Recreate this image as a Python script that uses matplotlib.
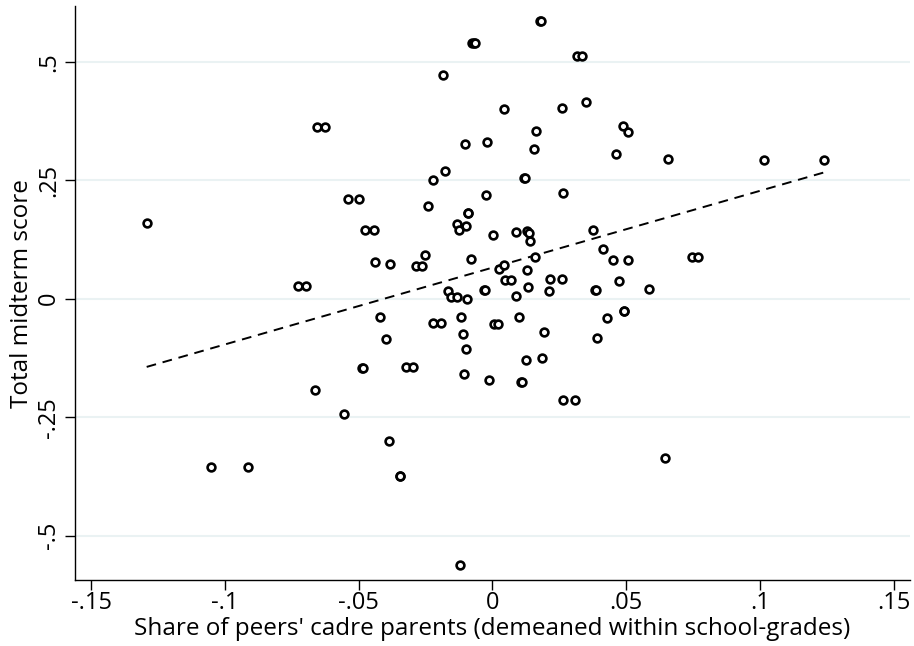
import numpy as np
import matplotlib
matplotlib.use("Agg")
import matplotlib.pyplot as plt

# values
x_share = [-0.1292, -0.0657, -0.0626, -0.0539, -0.0497, -0.0478, -0.0443, -0.0728, -0.0696,
           0.0177, 0.0181, -0.0075, -0.0070, -0.0065, 0.0316, 0.0335, -0.0184, 0.0042, 0.0261,
           0.0350, 0.0489, 0.0505, 0.0163, -0.0104, -0.0019, 0.0156, 0.0463, 0.0657, -0.0179,
           -0.0224, 0.0119, 0.0123, -0.0023, 0.0264, -0.0239, -0.0093, -0.0090, -0.0133, -0.0124,
           -0.0098, 0.0001, 0.0087, 0.0128, 0.0138, 0.0140, 0.0376, 0.0414, 0.0452, 0.0508,
           -0.0438, -0.0384, -0.0285, -0.0265, -0.0252, -0.0079, 0.0025, 0.0044, 0.0158, 0.0128,
           0.0048, 0.0070, 0.0214, 0.0259, 0.0474, -0.0166, -0.0154, -0.0132, -0.0094, -0.0033,
           -0.0029, 0.0134, 0.0087, 0.0212, 0.0382, 0.0386, 0.0586, 0.0492, 0.0429, -0.0420,
           -0.0396, -0.0224, -0.0194, -0.0119, -0.0111, -0.0098, -0.0105, 0.0004, 0.0022, 0.0099,
           0.0191, 0.0124, 0.0186, -0.0014, 0.0108, 0.0112, 0.0265, 0.0307, 0.0392, 0.0493,
           -0.0323, -0.0296, -0.0388, -0.0347, -0.0345, -0.0121, 0.0646, -0.0486, -0.0483, -0.0664,
           -0.0556, -0.1051, -0.0913, 0.1016, 0.1238, 0.0747, 0.0769]
y_score = [0.159, 0.362, 0.362, 0.210, 0.210, 0.144, 0.144, 0.027, 0.027,
           0.586, 0.586, 0.539, 0.539, 0.539, 0.511, 0.511, 0.471, 0.401, 0.402,
           0.416, 0.365, 0.352, 0.354, 0.327, 0.331, 0.316, 0.306, 0.294, 0.269,
           0.250, 0.255, 0.255, 0.219, 0.224, 0.196, 0.181, 0.181, 0.158, 0.145,
           0.153, 0.135, 0.141, 0.142, 0.138, 0.122, 0.144, 0.104, 0.081, 0.081,
           0.077, 0.074, 0.070, 0.070, 0.092, 0.083, 0.063, 0.071, 0.087, 0.060,
           0.039, 0.039, 0.041, 0.041, 0.038, 0.017, 0.003, 0.003, -0.001, 0.019,
           0.019, 0.025, 0.006, 0.016, 0.019, 0.019, 0.020, -0.025, -0.041, -0.038,
           -0.084, -0.052, -0.052, -0.038, -0.075, -0.107, -0.158, -0.053, -0.053, -0.038,
           -0.071, -0.129, -0.124, -0.171, -0.176, -0.176, -0.213, -0.213, -0.083, -0.026,
           -0.144, -0.144, -0.300, -0.375, -0.375, -0.562, -0.335, -0.147, -0.147, -0.192,
           -0.243, -0.354, -0.354, 0.293, 0.293, 0.088, 0.088]

# fitted line
fit_slope = 1.621
fit_intercept = 0.0656

xticks = [-0.15, -0.1, -0.05, 0, 0.05, 0.1, 0.15]
xtick_labels = ["-.15", "-.1", "-.05", "0", ".05", ".1", ".15"]
yticks = [-0.5, -0.25, 0, 0.25, 0.5]
ytick_labels = ["-.5", "-.25", "0", ".25", ".5"]

plt.rcParams["font.family"] = ["Open Sans", "DejaVu Sans"]

fig = plt.figure(figsize=(9.14, 6.46), dpi=100)
ax = fig.add_axes([0.082, 0.1017, 0.9136, 0.889])

for yt in yticks:
    ax.axhline(yt, color="#eaf2f3", lw=1.5, zorder=0)

ax.plot(x_share, y_score, "o", ms=5.6, mfc="white", mec="black", mew=1.9, ls="none", zorder=3)

xs = np.array([min(x_share), max(x_share)])
ax.plot(xs, fit_intercept + fit_slope * xs, ls=(0, (5, 3.5)), color="black", lw=1.4, zorder=2)

ax.set_xlim(-0.156, 0.156)
ax.set_ylim(-0.594, 0.6175)
ax.set_xticks(xticks)
ax.set_xticklabels(xtick_labels)
ax.set_yticks(yticks)
ax.set_yticklabels(ytick_labels, rotation=90, va="center")
ax.tick_params(axis="both", direction="out", length=7, width=1, labelsize=17, color="black")
ax.tick_params(axis="x", pad=0.5)
ax.tick_params(axis="y", pad=3)

ax.spines["top"].set_visible(False)
ax.spines["right"].set_visible(False)
ax.spines["left"].set_linewidth(1)
ax.spines["bottom"].set_linewidth(1)

ax.set_xlabel("Share of peers' cadre parents (demeaned within school-grades)", fontsize=17.5, labelpad=1.5)
ax.set_ylabel("Total midterm score", fontsize=17.5, labelpad=2)

fig.savefig("out.png", dpi=100, facecolor="white")
